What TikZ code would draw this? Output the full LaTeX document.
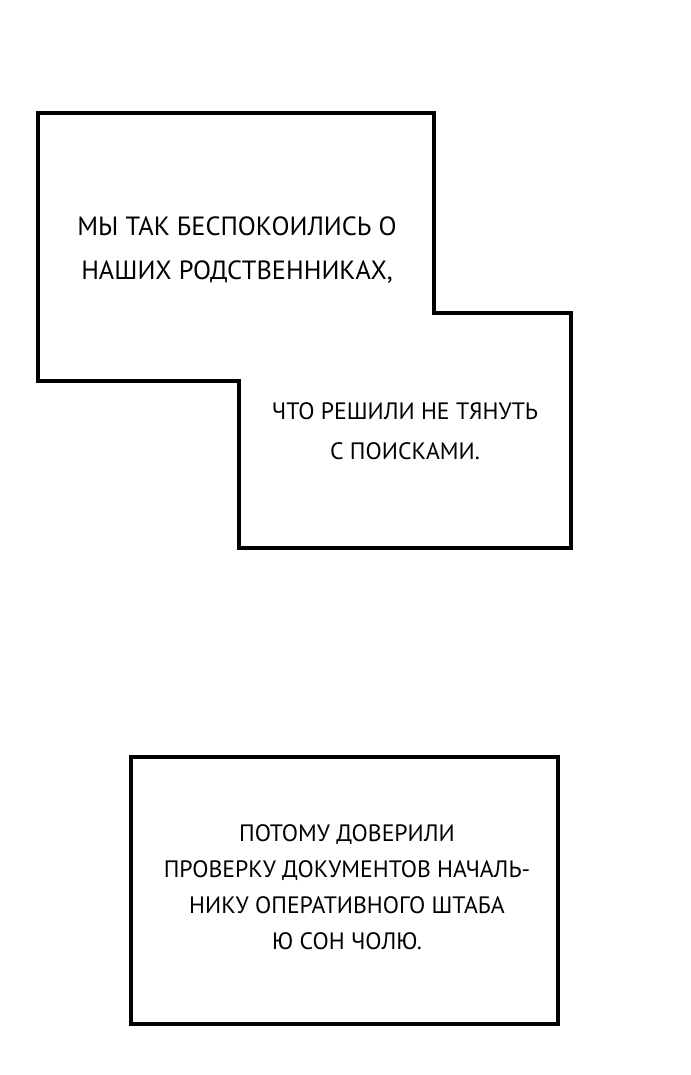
\documentclass[tikz,border=0pt]{standalone}
\usepackage{fontspec}
\setmainfont{PT Sans}
\begin{document}
\begin{tikzpicture}[x=0.02cm,y=-0.02cm]
    \tikzset{
      panel/.style={line width=3pt*0.75, fill=white},
      caption/.style={align=center, font=\fontsize{15}{25}\selectfont},
    }
    % Page
    \useasboundingbox[fill=white] (0,0) rectangle (690,1075);

    % Caption boxes
    \draw[panel] (38,113) -- (434,113) -- (434,313) -- (571,313) -- (571,548)
        -- (239,548) -- (239,381) -- (38,381) -- cycle;
    \draw[panel] (131,757) rectangle (558,1024);

    % Texts
    \node[caption] (worry) at (237,250) {МЫ ТАК БЕСПОКОИЛИСЬ О\\НАШИХ РОДСТВЕННИКАХ,};
    \node[caption, font=\fontsize{13.5}{23}\selectfont] (search) at (405,431) {ЧТО РЕШИЛИ НЕ ТЯНУТЬ\\С ПОИСКАМИ.};
    \node[caption, font=\fontsize{13.5}{20.5}\selectfont] (trust) at (347,887) {ПОТОМУ ДОВЕРИЛИ\\ПРОВЕРКУ ДОКУМЕНТОВ НАЧАЛЬ-\\НИКУ ОПЕРАТИВНОГО ШТАБА\\Ю СОН ЧОЛЮ.};
\end{tikzpicture}
\end{document}
